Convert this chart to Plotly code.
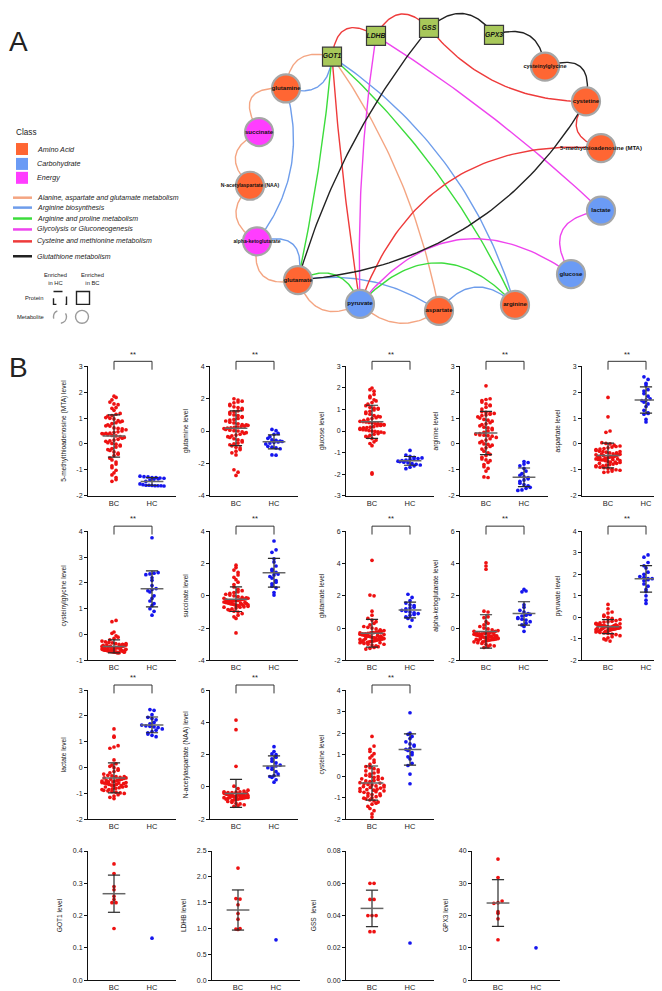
import numpy as np
import plotly.graph_objects as go

W, H = 662, 991
FONT = "Liberation Sans, Arial, Helvetica, sans-serif"

# ---------------- Panel A : network data ----------------
node_names = ["GOT1", "LDHB", "GSS", "GPX3", "cysteinylglycine", "cystetine",
              "5-methythioadenosine (MTA)", "lactate", "glucose", "arginine",
              "aspartate", "pyruvate", "glutamate", "alpha-ketoglutarate",
              "N-acetylaspartate (NAA)", "succinate", "glutamine"]
node_class = ["Protein", "Protein", "Protein", "Protein", "Amino Acid", "Amino Acid",
              "Amino Acid", "Carbohydrate", "Carbohydrate", "Amino Acid",
              "Amino Acid", "Carbohydrate", "Amino Acid", "Energy",
              "Amino Acid", "Energy", "Amino Acid"]
node_x = [324, 368, 421, 486, 537, 578, 593, 593, 563, 507, 431, 352, 290, 249, 242, 251, 278]
node_y = [45, 24, 16, 23, 55, 90, 137, 200, 264, 295, 301, 294, 270, 231, 175, 121, 77]

pathway_names = ["Alanine, aspartate and glutamate metabolism", "Arginine biosynthesis",
                 "Arginine and proline metabolism", "Glycolysis or Gluconeogenesis",
                 "Cysteine and methionine metabolism", "Glutathione metabolism"]

MTA = "5-methythioadenosine (MTA)"
NAA = "N-acetylaspartate (NAA)"
AKG = "alpha-ketoglutarate"
edge_src = ["GOT1", "GOT1", "glutamine", "succinate", NAA, AKG, "glutamate", "pyruvate", "GOT1",
            "glutamine", AKG, "GOT1", "glutamate", "aspartate",
            "GOT1", "GOT1", "glutamate", "pyruvate",
            "LDHB", "LDHB", "lactate", "pyruvate",
            "GOT1", "LDHB", "GSS", "cystetine", "GOT1", "pyruvate",
            "GSS", "GPX3", "cysteinylglycine", "GSS", "glutamate"]
edge_tgt = ["glutamine", "glutamine", "succinate", NAA, AKG, "glutamate", "pyruvate", "aspartate", "aspartate",
            AKG, "glutamate", "arginine", "aspartate", "arginine",
            "glutamate", "arginine", "pyruvate", "arginine",
            "pyruvate", "lactate", "glucose", "glucose",
            "LDHB", "GSS", "cystetine", MTA, "pyruvate", MTA,
            "GPX3", "cysteinylglycine", "cystetine", "glutamate", "cystetine"]
edge_path = [0, 1, 0, 0, 0, 0, 0, 0, 0,
             1, 1, 1, 1, 1,
             2, 2, 2, 2,
             3, 3, 3, 3,
             4, 4, 4, 4, 4, 4,
             5, 5, 5, 5, 5]
edge_bend = [0.6, -0.6, 0.95, 0.7, 0.62, 0.74, 0.57, 0.4, -0.11,
             -0.25, -0.8, -0.18, -0.2, -0.55,
             -0.03, -0.1, -0.55, -0.54,
             0.045, -0.05, 0.75, -0.47,
             -0.78, -0.67, 0.24, 0.7, 0.02, -0.38,
             -0.55, -0.6, -0.85, 0.1, 0.26]

class_names = ["Amino Acid", "Carbohydrate", "Energy"]

# ---------------- Panel B : scatter dot plot data ----------------
MTA_BC = [1.85, 1.80, 1.71, 1.62, 1.55, 1.52, 1.41, 1.38, 1.30, 1.18, 1.15, 1.10, 1.08, 1.02, 0.99, 0.97,
          0.90, 0.88, 0.85, 0.82, 0.79, 0.74, 0.70, 0.69, 0.62, 0.60, 0.58, 0.55, 0.50, 0.47, 0.45, 0.42,
          0.41, 0.40, 0.38, 0.36, 0.33, 0.31, 0.28, 0.25, 0.22, 0.18, 0.15, 0.12, 0.10, 0.05, 0.02, -0.01,
          -0.05, -0.08, -0.12, -0.18, -0.22, -0.25, -0.31, -0.36, -0.40, -0.45, -0.55, -0.62, -0.70, -0.78,
          -0.85, -0.92, -1.02, -1.12, -1.20, -1.30, -1.38, -1.45]
MTA_HC = [-1.25, -1.27, -1.28, -1.30, -1.30, -1.32, -1.33, -1.35, -1.36, -1.40, -1.45, -1.55, -1.58,
          -1.60, -1.60, -1.61, -1.62, -1.62, -1.62, -1.63]

GLN_BC = [2.00, 1.92, 1.85, 1.80, 1.75, 1.65, 1.58, 1.50, 1.45, 1.40, 1.32, 1.25, 1.20, 1.15, 1.05, 1.00,
          0.95, 0.90, 0.85, 0.78, 0.72, 0.68, 0.62, 0.55, 0.50, 0.45, 0.40, 0.38, 0.35, 0.30, 0.28, 0.25,
          0.22, 0.20, 0.18, 0.15, 0.10, 0.05, 0.02, 0.00, -0.05, -0.10, -0.15, -0.20, -0.25, -0.30, -0.35,
          -0.40, -0.48, -0.55, -0.60, -0.68, -0.75, -0.80, -0.85, -0.92, -1.00, -1.05, -1.15, -1.25, -1.35,
          -1.48, -2.40, -2.55, -2.75]
GLN_HC = [0.10, 0.02, -0.15, -0.20, -0.35, -0.45, -0.55, -0.58, -0.62, -0.65, -0.68, -0.70, -0.75, -0.80,
          -0.95, -1.00, -1.05, -1.10, -1.48, -1.50]

GLC_BC = [2.00, 1.92, 1.85, 1.70, 1.62, 1.55, 1.45, 1.40, 1.32, 1.25, 1.18, 1.10, 1.06, 1.05, 1.02, 0.98,
          0.92, 0.88, 0.82, 0.78, 0.72, 0.68, 0.66, 0.62, 0.58, 0.55, 0.50, 0.45, 0.44, 0.42, 0.40, 0.38,
          0.36, 0.35, 0.32, 0.30, 0.28, 0.26, 0.25, 0.20, 0.18, 0.16, 0.15, 0.12, 0.08, 0.06, 0.05, 0.02,
          0.00, -0.02, -0.04, -0.05, -0.08, -0.12, -0.15, -0.20, -0.25, -0.30, -0.35, -0.42, -0.50, -0.58,
          -0.68, -1.95, -2.00]
GLC_HC = [-0.90, -1.12, -1.18, -1.22, -1.25, -1.28, -1.30, -1.32, -1.35, -1.38, -1.40, -1.42, -1.45,
          -1.48, -1.52, -1.55, -1.58, -1.62, -1.68, -1.75]

ARG_BC = [2.25, 1.75, 1.72, 1.68, 1.62, 1.55, 1.50, 1.48, 1.42, 1.35, 1.25, 1.22, 1.20, 1.18, 1.15, 1.12,
          1.10, 1.05, 1.00, 0.95, 0.92, 0.88, 0.82, 0.78, 0.75, 0.70, 0.65, 0.62, 0.60, 0.55, 0.50, 0.45,
          0.40, 0.38, 0.35, 0.34, 0.32, 0.30, 0.25, 0.20, 0.15, 0.10, 0.05, 0.00, -0.02, -0.05, -0.10,
          -0.15, -0.20, -0.28, -0.35, -0.40, -0.45, -0.52, -0.58, -0.62, -0.65, -0.72, -0.80, -0.88,
          -0.95, -1.05, -1.28, -1.30]
ARG_HC = [-0.68, -0.72, -0.78, -0.85, -0.95, -1.05, -1.15, -1.22, -1.28, -1.30, -1.35, -1.40, -1.45,
          -1.52, -1.58, -1.62, -1.68, -1.72, -1.78, -1.80]

ASP_BC = [1.80, 1.05, 0.50, 0.45, 0.05, 0.02, 0.00, -0.05, -0.08, -0.10, -0.12, -0.15, -0.18, -0.20,
          -0.22, -0.25, -0.28, -0.30, -0.32, -0.35, -0.38, -0.40, -0.42, -0.45, -0.48, -0.50, -0.50,
          -0.52, -0.55, -0.55, -0.58, -0.60, -0.62, -0.62, -0.65, -0.68, -0.70, -0.72, -0.75, -0.78,
          -0.80, -0.82, -0.85, -0.88, -0.90, -0.92, -0.95, -0.98, -1.00, -1.02, -1.05, -1.08, -1.10,
          -0.45, -0.40, -0.52, -0.60, -0.35, -0.70, -0.48, -0.58, -0.65, -0.42, -0.30, -0.75, -0.85]
ASP_HC = [2.60, 2.50, 2.35, 2.28, 2.10, 2.05, 1.95, 1.85, 1.75, 1.70, 1.68, 1.62, 1.55, 1.45, 1.30,
          1.20, 1.18, 1.15, 0.95, 0.85]

CYG_BC = [0.55, 0.50, 0.10, 0.05, -0.05, -0.10, -0.15, -0.20, -0.25, -0.28, -0.30, -0.32, -0.35, -0.38,
          -0.40, -0.42, -0.44, -0.45, -0.46, -0.48, -0.50, -0.50, -0.52, -0.52, -0.54, -0.55, -0.55,
          -0.56, -0.58, -0.58, -0.60, -0.60, -0.60, -0.62, -0.62, -0.63, -0.64, -0.65, -0.65, -0.66,
          -0.66, -0.67, -0.68, -0.68, -0.69, -0.70, -0.70, -0.70, -0.45, -0.48, -0.52, -0.56, -0.58,
          -0.62, -0.64, -0.66, -0.68, -0.40, -0.38, -0.55, -0.60, -0.50, -0.35, -0.42, -0.46, -0.57]
CYG_HC = [3.75, 2.40, 2.38, 2.35, 2.32, 2.20, 2.10, 1.90, 1.78, 1.75, 1.70, 1.65, 1.50, 1.40, 1.30,
          1.20, 1.12, 1.00, 0.90, 0.75]

SUC_BC = [1.90, 1.75, 1.60, 1.45, 1.30, 1.15, 1.00, 0.85, 0.70, 0.55, 0.40, 0.32, 0.25, 0.20, 0.15,
          0.10, 0.05, 0.00, -0.05, -0.10, -0.12, -0.15, -0.18, -0.20, -0.22, -0.25, -0.28, -0.30, -0.32,
          -0.35, -0.38, -0.40, -0.42, -0.45, -0.48, -0.50, -0.52, -0.55, -0.58, -0.60, -0.62, -0.65,
          -0.68, -0.70, -0.75, -0.80, -0.85, -0.90, -0.95, -1.00, -1.10, -1.20, -1.30, -1.40, -2.30,
          -0.30, -0.35, -0.45, -0.52, -0.25, -0.60, -0.40, -0.48, -0.15, -0.55, -0.70]
SUC_HC = [3.40, 2.85, 2.70, 2.30, 2.10, 1.85, 1.65, 1.55, 1.45, 1.35, 1.30, 1.20, 1.10, 0.95, 0.85,
          0.75, 0.60, 0.50, 0.20, 0.05]

GLU_BC = [4.20, 2.05, 2.00, 1.05, 0.80, 0.60, 0.50, 0.40, 0.30, 0.20, 0.10, 0.05, 0.00, -0.05, -0.10,
          -0.15, -0.20, -0.22, -0.25, -0.28, -0.30, -0.32, -0.35, -0.38, -0.40, -0.42, -0.45, -0.48,
          -0.50, -0.52, -0.55, -0.58, -0.60, -0.62, -0.65, -0.68, -0.70, -0.72, -0.75, -0.78, -0.80,
          -0.82, -0.85, -0.88, -0.90, -0.95, -1.00, -1.05, -1.10, -1.15, -1.20, -1.25, -1.30, -0.45,
          -0.55, -0.65, -0.75, -0.35, -0.85, -0.50, -0.60, -0.70, -0.40, -0.90, -1.00, -0.30]
GLU_HC = [2.10, 1.90, 1.70, 1.55, 1.45, 1.40, 1.30, 1.25, 1.20, 1.10, 1.05, 1.00, 0.95, 0.90, 0.85,
          0.80, 0.70, 0.60, 0.50, 0.10]

AKG_BC = [4.05, 3.85, 3.65, 1.05, 1.00, 0.70, 0.65, 0.40, 0.30, 0.20, 0.10, 0.00, -0.05, -0.10, -0.15,
          -0.20, -0.25, -0.28, -0.30, -0.32, -0.35, -0.38, -0.40, -0.42, -0.45, -0.48, -0.50, -0.52,
          -0.55, -0.58, -0.60, -0.62, -0.65, -0.68, -0.70, -0.72, -0.75, -0.78, -0.80, -0.85, -0.90,
          -0.95, -1.00, -1.05, -1.10, -1.15, -1.20, -0.45, -0.55, -0.65, -0.35, -0.75, -0.50, -0.60,
          -0.40, -0.70, -0.30, -0.85, -0.20, -0.55, -0.48, -0.62]
AKG_HC = [2.40, 2.30, 2.25, 1.45, 1.30, 1.10, 1.00, 0.90, 0.85, 0.80, 0.75, 0.65, 0.60, 0.55, 0.50,
          0.40, 0.30, 0.20, 0.10, -0.20]

PYR_BC = [0.60, 0.40, 0.25, 0.20, 0.10, 0.05, 0.00, -0.05, -0.10, -0.15, -0.18, -0.20, -0.22, -0.25,
          -0.28, -0.30, -0.32, -0.35, -0.36, -0.38, -0.40, -0.40, -0.42, -0.44, -0.45, -0.46, -0.48,
          -0.50, -0.50, -0.52, -0.54, -0.55, -0.56, -0.58, -0.60, -0.62, -0.64, -0.66, -0.68, -0.70,
          -0.72, -0.75, -0.78, -0.80, -0.85, -0.90, -0.95, -1.00, -1.05, -1.10, -0.45, -0.48, -0.52,
          -0.42, -0.38, -0.55, -0.60, -0.35, -0.65, -0.50, -0.40, -0.47, -0.30, -0.57]
PYR_HC = [2.90, 2.80, 2.55, 2.40, 2.30, 2.10, 2.00, 1.90, 1.85, 1.80, 1.80, 1.75, 1.70, 1.55, 1.45,
          1.30, 1.20, 1.00, 0.80, 0.65]

LAC_BC = [1.50, 1.22, 1.18, 0.85, 0.80, 0.75, 0.30, 0.15, 0.10, 0.05, 0.00, -0.05, -0.10, -0.15, -0.20,
          -0.25, -0.30, -0.32, -0.35, -0.38, -0.40, -0.42, -0.45, -0.48, -0.50, -0.52, -0.55, -0.58,
          -0.60, -0.62, -0.65, -0.68, -0.70, -0.72, -0.75, -0.78, -0.80, -0.82, -0.85, -0.88, -0.90,
          -0.92, -0.95, -0.98, -1.00, -1.05, -1.10, -1.15, -1.20, -0.45, -0.55, -0.65, -0.50, -0.60,
          -0.70, -0.40, -0.35, -0.75, -0.62, -0.58, -0.85, -0.52]
LAC_HC = [2.25, 2.22, 2.05, 1.95, 1.90, 1.85, 1.75, 1.70, 1.65, 1.62, 1.60, 1.58, 1.55, 1.50, 1.45,
          1.40, 1.35, 1.30, 1.25, 1.20]

NAA_BC = [4.15, 3.55, 1.28, 0.05, -0.10, -0.20, -0.25, -0.30, -0.32, -0.35, -0.38, -0.40, -0.42, -0.45,
          -0.45, -0.48, -0.50, -0.50, -0.52, -0.55, -0.55, -0.58, -0.60, -0.60, -0.62, -0.65, -0.65,
          -0.68, -0.70, -0.72, -0.75, -0.78, -0.80, -0.85, -0.90, -0.95, -1.00, -1.05, -1.10, -1.15,
          -1.20, -0.40, -0.45, -0.50, -0.55, -0.60, -0.35, -0.65, -0.70, -0.48, -0.52, -0.42, -0.58,
          -0.62, -0.30, -0.75, -0.38, -0.44, -0.54, -0.66]
NAA_HC = [2.50, 2.20, 2.05, 2.00, 1.85, 1.75, 1.60, 1.50, 1.35, 1.30, 1.25, 1.20, 1.10, 0.95, 0.80,
          0.70, 0.65, 0.60, 0.45, 0.30]

CYS_BC = [1.85, 1.40, 1.25, 1.15, 1.05, 0.95, 0.85, 0.75, 0.65, 0.55, 0.45, 0.40, 0.35, 0.30, 0.20,
          0.15, 0.10, 0.05, 0.00, -0.05, -0.10, -0.15, -0.20, -0.25, -0.30, -0.35, -0.38, -0.40, -0.45,
          -0.50, -0.55, -0.60, -0.65, -0.70, -0.75, -0.80, -0.85, -0.90, -0.95, -1.00, -1.05, -1.10,
          -1.15, -1.20, -1.25, -1.30, -1.40, -1.50, -1.60, -1.75, -1.90, -0.32, -0.42, -0.52, -0.62,
          -0.72, -0.22, -0.12, -0.82, -0.92, -1.02, -0.48, -0.58, -0.68, -0.02, 0.25]
CYS_HC = [2.95, 2.00, 1.95, 1.85, 1.75, 1.60, 1.50, 1.45, 1.40, 1.30, 1.25, 1.20, 1.10, 1.00, 0.90,
          0.80, 0.60, 0.50, 0.10, -0.35]

GOT1_BC = [0.36, 0.33, 0.29, 0.28, 0.26, 0.25, 0.24, 0.24, 0.16]
GOT1_HC = [0.13]
LDHB_BC = [2.17, 1.58, 1.57, 1.46, 1.29, 1.18, 1.00, 0.99, 0.98]
LDHB_HC = [0.78]
GSS_BC = [0.06, 0.06, 0.05, 0.05, 0.04, 0.04, 0.04, 0.03, 0.03]
GSS_HC = [0.023]
GPX3_BC = [37.5, 31.8, 24.5, 24.0, 23.8, 21.2, 20.7, 19.0, 12.5]
GPX3_HC = [10.0]

groups = ["BC", "HC"]

# (y title, BC values, HC values, ymin, ymax, dtick, tick format, row, col, significance)
panels = [
    ("5-methylthioadenosine (MTA) level", MTA_BC, MTA_HC, -2, 3, 1, "d", 0, 0, "**"),
    ("glutamine level", GLN_BC, GLN_HC, -4, 4, 2, "d", 0, 1, "**"),
    ("glucose level", GLC_BC, GLC_HC, -3, 3, 1, "d", 0, 2, "**"),
    ("arginine level", ARG_BC, ARG_HC, -2, 3, 1, "d", 0, 3, "**"),
    ("aspartate level", ASP_BC, ASP_HC, -2, 3, 1, "d", 0, 4, "**"),
    ("cysteinylglycine level", CYG_BC, CYG_HC, -1, 4, 1, "d", 1, 0, "**"),
    ("succinate level", SUC_BC, SUC_HC, -4, 4, 2, "d", 1, 1, "**"),
    ("glutamate level", GLU_BC, GLU_HC, -2, 6, 2, "d", 1, 2, "**"),
    ("alpha-ketoglutarate level", AKG_BC, AKG_HC, -2, 6, 2, "d", 1, 3, "**"),
    ("pyruvate level", PYR_BC, PYR_HC, -2, 4, 1, "d", 1, 4, "**"),
    ("lactate level", LAC_BC, LAC_HC, -2, 3, 1, "d", 2, 0, "**"),
    ("N-acetylaspartate (NAA) level", NAA_BC, NAA_HC, -2, 6, 2, "d", 2, 1, "**"),
    ("cysteine level", CYS_BC, CYS_HC, -2, 4, 1, "d", 2, 2, "**"),
    ("GOT1 level", GOT1_BC, GOT1_HC, 0, 0.4, 0.1, ".1f", 3, 0, ""),
    ("LDHB level", LDHB_BC, LDHB_HC, 0, 2.5, 0.5, ".1f", 3, 1, ""),
    ("GSS  level", GSS_BC, GSS_HC, 0, 0.08, 0.02, ".2f", 3, 2, ""),
    ("GPX3 level", GPX3_BC, GPX3_HC, 0, 40, 10, "d", 3, 3, ""),
]

# ---------------- styles / layout constants ----------------
CLASS_COLOR = {"Amino Acid": "#FF6633", "Carbohydrate": "#6B9BF5", "Energy": "#FF3DFF"}
PATH_COLOR = ["#F4A582", "#6E9DEB", "#3CDC3C", "#EE44EE", "#EE3B3B", "#222222"]
PROTEIN_FILL = "#A8C85A"
LABEL_SIZE = {"cysteinylglycine": 5.6, "5-methythioadenosine (MTA)": 6.0,
              "alpha-ketoglutarate": 5.1, "N-acetylaspartate (NAA)": 5.1}
RED, BLUE = "#EE1111", "#1515EE"
MEAN_C, WHISK_C = "#666666", "#2A2A2A"

ROW_TOP = [357, 523, 683, 845]
ROW_BOT = [487, 653, 813, 975]
COL_X = [[80, 202, 338, 452, 574], [80, 202, 338, 452, 574], [80, 202, 338], [80, 204, 338, 464]]
AX_LEN, BC_OFF, PX_PER_CAT = 88, 26, 38.0
DOT = 3.7

fig = go.Figure()
OV = 30  # overlay axis id for panel A & labels
ovx, ovy = f"x{OV}", f"y{OV}"


def bezier(p0, p1, bend, n=60):
    x0, y0 = p0
    x1, y1 = p1
    dx, dy = x1 - x0, y1 - y0
    L = np.hypot(dx, dy)
    nx, ny = -dy / L, dx / L
    cx = (x0 + x1) / 2 + bend * L * nx
    cy = (y0 + y1) / 2 + bend * L * ny
    t = np.linspace(0, 1, n)
    return ((1 - t) ** 2 * x0 + 2 * (1 - t) * t * cx + t ** 2 * x1,
            (1 - t) ** 2 * y0 + 2 * (1 - t) * t * cy + t ** 2 * y1)


pos = {n: (x, y) for n, x, y in zip(node_names, node_x, node_y)}

# edges grouped by pathway
for p in range(len(pathway_names)):
    xs, ys = [], []
    for s, t_, pp, b in zip(edge_src, edge_tgt, edge_path, edge_bend):
        if pp != p:
            continue
        bx, by = bezier(pos[s], pos[t_], b)
        xs += list(bx) + [None]
        ys += list(by) + [None]
    fig.add_trace(go.Scatter(x=xs, y=ys, mode="lines", xaxis=ovx, yaxis=ovy,
                             line=dict(color=PATH_COLOR[p], width=1.4), hoverinfo="skip"))

# metabolite nodes
for c in class_names:
    idx = [i for i, k in enumerate(node_class) if k == c]
    fig.add_trace(go.Scatter(x=[node_x[i] for i in idx], y=[node_y[i] for i in idx], mode="markers",
                             xaxis=ovx, yaxis=ovy,
                             marker=dict(size=28, color=CLASS_COLOR[c], line=dict(color="#A6A6A6", width=2.2)),
                             hoverinfo="skip"))
# protein nodes
idx = [i for i, k in enumerate(node_class) if k == "Protein"]
fig.add_trace(go.Scatter(x=[node_x[i] for i in idx], y=[node_y[i] for i in idx], mode="markers",
                         xaxis=ovx, yaxis=ovy,
                         marker=dict(size=19, symbol="square", color=PROTEIN_FILL,
                                     line=dict(color="#3A3A3A", width=1.2)),
                         hoverinfo="skip"))
# node labels
for i, n in enumerate(node_names):
    if node_class[i] == "Protein":
        txt, sz = f"<b><i>{n}</i></b>", 6.8
    else:
        txt, sz = f"<b>{n}</b>", LABEL_SIZE.get(n, 6.1)
    fig.add_trace(go.Scatter(x=[node_x[i]], y=[node_y[i]], mode="text", text=[txt],
                             xaxis=ovx, yaxis=ovy, cliponaxis=False,
                             textfont=dict(size=sz, color="#111", family=FONT), hoverinfo="skip"))

annotations = []
shapes = []


def ov_text(x, y, text, size, xanchor="left", color="#222", yanchor="middle"):
    annotations.append(dict(x=x, y=y, xref=ovx, yref=ovy, text=text, showarrow=False,
                            xanchor=xanchor, yanchor=yanchor, borderpad=0,
                            font=dict(size=size, color=color, family=FONT)))


ov_text(0, 30, "A", 28)
ov_text(0, 358, "B", 28)

# class legend
ov_text(7, 121, "Class", 8.2)
for k, (c, y) in enumerate(zip(class_names, [138, 153, 167])):
    fig.add_trace(go.Scatter(x=[14], y=[y], mode="markers", xaxis=ovx, yaxis=ovy,
                             marker=dict(size=12, symbol="square", color=CLASS_COLOR[c]), hoverinfo="skip"))
    ov_text(28, y, f"<i>{c}</i>", 7.2)
# pathway legend
for p, y in enumerate([187, 197, 208, 219, 231, 246]):
    fig.add_trace(go.Scatter(x=[5, 24], y=[y, y], mode="lines", xaxis=ovx, yaxis=ovy,
                             line=dict(color=PATH_COLOR[p], width=2.5), hoverinfo="skip"))
    ov_text(28, y, f"<i>{pathway_names[p]}</i>", 7.0)

# enrichment legend
ov_text(47, 269, "Enriched<br>in HC", 5.8, xanchor="center")
ov_text(84, 269, "Enriched<br>in BC", 5.8, xanchor="center")
ov_text(36, 288, "Protein", 5.8, xanchor="right")
ov_text(37, 307, "Metabolite", 5.8, xanchor="right")
r = 6.5
shapes.append(dict(type="rect", xref=ovx, yref=ovy, x0=52 - r, x1=52 + r, y0=288 - r, y1=288 + r,
                   line=dict(color="#222", width=1.4, dash="dash")))
shapes.append(dict(type="rect", xref=ovx, yref=ovy, x0=75 - r, x1=75 + r, y0=288 - r, y1=288 + r,
                   line=dict(color="#222", width=1.4)))
shapes.append(dict(type="circle", xref=ovx, yref=ovy, x0=52 - r, x1=52 + r, y0=307 - r, y1=307 + r,
                   line=dict(color="#9A9A9A", width=1.4, dash="dash")))
shapes.append(dict(type="circle", xref=ovx, yref=ovy, x0=74 - r, x1=74 + r, y0=307 - r, y1=307 + r,
                   line=dict(color="#9A9A9A", width=1.4)))


# ---------------- Panel B ----------------
def row_swarm(vals, ppu, d, maxw):
    """GraphPad-like scatter: points binned in rows, spread side by side (compressed if crowded)."""
    py = np.asarray(vals, float) * ppu
    bins = np.round(py / d).astype(int)
    xs = np.zeros(len(py))
    for b in np.unique(bins):
        idx = np.where(bins == b)[0]
        n = len(idx)
        if n == 1:
            continue
        sp = min(d, maxw / (n - 1))
        offs = (np.arange(n) - (n - 1) / 2) * sp
        xs[idx] = offs if b % 2 == 0 else offs[::-1]
    return xs


layout_axes = {}
xr = [-BC_OFF / PX_PER_CAT, (AX_LEN - BC_OFF) / PX_PER_CAT]
for k, (title, bc, hc, ymin, ymax, dt, fmt, row, col, sig) in enumerate(panels):
    i = k + 1
    sfx = "" if i == 1 else str(i)
    ax0 = COL_X[row][col]
    top, bot = ROW_TOP[row], ROW_BOT[row]
    ppu = (bot - top) / (ymax - ymin)
    xa, ya = "x" + sfx, "y" + sfx
    for g, (vals, col_) in enumerate([(bc, RED), (hc, BLUE)]):
        off = row_swarm(vals, ppu, DOT + 0.4, 24.0) / PX_PER_CAT
        fig.add_trace(go.Scatter(x=g + off, y=vals, mode="markers", xaxis=xa, yaxis=ya, cliponaxis=False,
                                 marker=dict(size=DOT, color=col_, line=dict(width=0)), hoverinfo="skip"))
    # mean +/- SD
    mx, my, wx, wy = [], [], [], []
    for g, vals in enumerate([bc, hc]):
        v = np.asarray(vals, float)
        if len(v) < 2:
            continue
        m = v.mean()
        s = v.std(ddof=1)
        mx += [g - 0.30, g + 0.30, None]
        my += [m, m, None]
        wx += [g, g, None, g - 0.16, g + 0.16, None, g - 0.16, g + 0.16, None]
        wy += [m - s, m + s, None, m + s, m + s, None, m - s, m - s, None]
    fig.add_trace(go.Scatter(x=wx, y=wy, mode="lines", xaxis=xa, yaxis=ya, cliponaxis=False,
                             line=dict(color=WHISK_C, width=1.2), hoverinfo="skip"))
    fig.add_trace(go.Scatter(x=mx, y=my, mode="lines", xaxis=xa, yaxis=ya, cliponaxis=False,
                             line=dict(color=MEAN_C, width=1.5), hoverinfo="skip"))
    tickvals = list(np.round(np.arange(ymin, ymax + dt / 2, dt), 6))
    ticktext = [format(t, fmt) if fmt != "d" else str(int(round(t))) for t in tickvals]
    layout_axes["xaxis" + sfx] = dict(
        domain=[ax0 / W, min((ax0 + AX_LEN) / W, 1.0)], anchor=ya, range=xr,
        tickvals=[0, 1], ticktext=groups, ticks="", showline=True, linecolor="#111", linewidth=1,
        showgrid=False, zeroline=False, tickfont=dict(size=7.5, color="#222", family=FONT), fixedrange=True)
    layout_axes["yaxis" + sfx] = dict(
        domain=[1 - bot / H, 1 - top / H], anchor=xa, range=[ymin, ymax],
        tickvals=tickvals, ticktext=ticktext, ticks="outside", ticklen=3, tickwidth=1, tickcolor="#111",
        showline=True, linecolor="#111", linewidth=1, showgrid=False, zeroline=False,
        tickfont=dict(size=7, color="#222", family=FONT), fixedrange=True,
        title=dict(text=title, font=dict(size=6.6, color="#222", family=FONT), standoff=9))
    if sig:
        shapes.append(dict(type="path", xref=xa, yref=f"{ya} domain",
                           path="M 0 0.975 L 0 1.04 L 1 1.04 L 1 0.975",
                           line=dict(color="#333", width=1)))
        annotations.append(dict(x=0.5, y=1.045, xref=xa, yref=f"{ya} domain", text=sig, showarrow=False,
                                xanchor="center", yanchor="bottom",
                                font=dict(size=7.5, color="#222", family=FONT)))

layout_axes[f"xaxis{OV}"] = dict(domain=[0, 1], range=[0, W], anchor=ovy, visible=False, fixedrange=True)
layout_axes[f"yaxis{OV}"] = dict(domain=[0, 1], range=[H, 0], anchor=ovx, visible=False, fixedrange=True)

fig.update_layout(**layout_axes)
fig.update_layout(width=W, height=H, margin=dict(l=0, r=0, t=0, b=0), showlegend=False,
                  paper_bgcolor="white", plot_bgcolor="rgba(0,0,0,0)",
                  font=dict(family=FONT, color="#222"),
                  annotations=annotations, shapes=shapes)
fig.write_html("out.html")
